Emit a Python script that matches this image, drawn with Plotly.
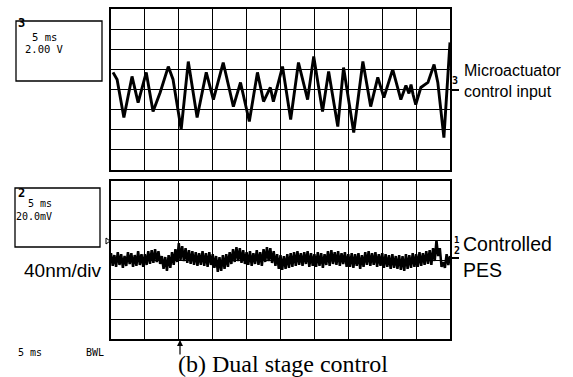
import numpy as np
import plotly.graph_objects as go
from plotly.subplots import make_subplots

# ---- data (divisions) ----
top_t = [0.06, 0.18, 0.38, 0.62, 0.80, 1.04, 1.24, 1.45, 1.69, 1.83, 2.07, 2.28, 2.54, 2.81,
         3.02, 3.31, 3.61, 3.82, 4.08, 4.32, 4.50, 4.70, 4.79, 5.06, 5.30, 5.53, 5.80, 5.98,
         6.24, 6.42, 6.69, 6.86, 7.16, 7.43, 7.66, 7.87, 8.05, 8.31, 8.55, 8.64, 8.70, 8.79,
         8.85, 8.91, 8.99, 9.14, 9.35, 9.53, 9.64, 9.82, 9.94, 10.0]
top_v = [0.85, 0.50, -1.39, 0.65, -0.65, 0.85, -1.09, -0.15, 1.14, 0.50, -1.99, 1.39, -1.39, 0.85,
         -0.50, 1.34, -0.85, 0.35, -1.59, 0.85, -0.60, 0.10, -0.60, 1.14, -1.49, 1.34, -0.50, 1.64,
         -1.09, 0.90, -1.84, 1.09, -2.14, 1.39, -0.85, 0.60, -0.40, 1.00, -0.50, -0.10, 0.20, -0.20,
         0.25, -0.25, -0.75, 0.10, 0.35, 1.24, 0.35, -2.39, 0.85, 2.34]

bot_v = [
    0.35, -0.30, 0.25, -0.35, 0.40, -0.25, 0.30, -0.40, 0.20, -0.30,
    0.40, -0.20, 0.35, -0.35, 0.25, -0.30, 0.45, -0.25, 0.30, -0.35,
    0.30, -0.25, 0.45, -0.20, 0.50, -0.15, 0.55, -0.10, 0.45, -0.20,
    0.20, -0.45, 0.15, -0.55, 0.25, -0.40, 0.40, -0.25, 0.55, -0.10,
    0.85, 0.00, 0.70, -0.05, 0.60, -0.15, 0.50, -0.20, 0.45, -0.25,
    0.40, -0.30, 0.35, -0.25, 0.45, -0.30, 0.35, -0.35, 0.40, -0.25,
    0.30, -0.40, 0.20, -0.60, 0.15, -0.55, 0.25, -0.45, 0.30, -0.35,
    0.40, -0.20, 0.55, -0.10, 0.65, -0.05, 0.60, -0.15, 0.50, -0.20,
    0.40, -0.25, 0.45, -0.30, 0.35, -0.20, 0.50, -0.25, 0.40, -0.30,
    0.55, -0.10, 0.65, -0.05, 0.60, -0.15, 0.45, -0.30, 0.30, -0.45,
    0.25, -0.50, 0.20, -0.45, 0.30, -0.40, 0.35, -0.35, 0.40, -0.30,
    0.45, -0.25, 0.35, -0.30, 0.40, -0.20, 0.45, -0.35, 0.35, -0.30,
    0.30, -0.35, 0.40, -0.30, 0.35, -0.40, 0.30, -0.25, 0.45, -0.30,
    0.50, -0.20, 0.40, -0.25, 0.45, -0.30, 0.35, -0.20, 0.40, -0.35,
    0.30, -0.35, 0.35, -0.40, 0.30, -0.30, 0.35, -0.45, 0.25, -0.35,
    0.40, -0.25, 0.45, -0.30, 0.35, -0.25, 0.40, -0.35, 0.30, -0.30,
    0.35, -0.40, 0.30, -0.35, 0.25, -0.45, 0.30, -0.40, 0.20, -0.45,
    0.25, -0.50, 0.20, -0.55, 0.30, -0.45, 0.25, -0.40, 0.35, -0.35,
    0.30, -0.35, 0.40, -0.30, 0.35, -0.25, 0.45, -0.20, 0.50, -0.25,
    0.60, -0.05, 1.00, 0.20, 0.60, -0.35, -0.10, -0.40, 0.30, -0.25,
    0.20]
bot_t = np.linspace(0, 10, len(bot_v))

W, H = 573, 377
def px(x): return x / W
def py(y): return 1 - y / H

fig = make_subplots(rows=2, cols=1)
fig.add_trace(go.Scatter(x=top_t, y=top_v, mode="lines",
                         line=dict(color="black", width=2.9), showlegend=False), row=1, col=1)
fig.add_trace(go.Scatter(x=bot_t, y=bot_v, mode="lines",
                         line=dict(color="black", width=2.5), showlegend=False), row=2, col=1)

xdom = [px(111), px(450)]
axcommon = dict(showgrid=True, gridcolor="black", gridwidth=1.3, zeroline=False,
                showline=True, linecolor="black", linewidth=2, mirror=True,
                showticklabels=False, ticks="", dtick=1)
fig.update_xaxes(range=[0, 10], domain=xdom, **axcommon)
fig.update_yaxes(range=[-4, 4], **axcommon)
fig.update_layout(yaxis=dict(domain=[py(170), py(9)]),
                  yaxis2=dict(domain=[py(339), py(181)]))

mono = "DejaVu Sans Mono"
ann = []
def text(x, y, s, size, family, xanchor="left", yanchor="middle", bold=False):
    ann.append(dict(x=px(x), y=py(y), xref="paper", yref="paper", text=(f"<b>{s}</b>" if bold else s),
                    showarrow=False, xanchor=xanchor, yanchor=yanchor,
                    font=dict(size=size, family=family, color="black")))

text(16, 23, "3", 12, mono, bold=True)
text(30, 37, "5 ms", 10.5, mono)
text(23, 49, "2.00 V", 10.5, mono)
text(16, 193, "2", 12, mono, bold=True)
text(26, 203, "5 ms", 10, mono)
text(14, 216, "20.0mV", 10, mono)
text(22, 270, "40nm/div", 19, "Liberation Sans")
text(462, 70, "Microactuator", 16, "Liberation Sans")
text(462, 91, "control input", 16, "Liberation Sans")
text(461, 244, "Controlled", 19.5, "Liberation Sans")
text(461, 270, "PES", 19.5, "Liberation Sans")
text(450, 80, "3", 10, mono, bold=True)
text(452, 240, "1", 9, mono, bold=True)
text(452, 250, "2", 10, mono, bold=True)
text(16, 352, "5 ms", 10, mono)
text(84, 352, "BWL", 10, mono)
text(283, 364, "(b) Dual stage control", 24, "Liberation Serif", xanchor="center")
ann.append(dict(x=px(180), y=py(340), ax=0, ay=16, xref="paper", yref="paper",
                axref="pixel", ayref="pixel", showarrow=True, arrowhead=2, arrowsize=1,
                arrowwidth=1.2, arrowcolor="black", text=""))

shapes = [
    dict(type="rect", xref="paper", yref="paper", x0=px(16), x1=px(102), y0=py(81), y1=py(21),
         line=dict(color="black", width=1.3)),
    dict(type="rect", xref="paper", yref="paper", x0=px(15), x1=px(100), y0=py(247), y1=py(188),
         line=dict(color="black", width=1.3)),
    dict(type="line", xref="paper", yref="paper", x0=px(450), x1=px(459), y0=py(90), y1=py(90),
         line=dict(color="black", width=2)),
    dict(type="line", xref="paper", yref="paper", x0=px(450), x1=px(459), y0=py(258), y1=py(258),
         line=dict(color="black", width=2)),
    dict(type="path", xref="paper", yref="paper",
         path=f"M {px(106)},{py(238)} L {px(110)},{py(241)} L {px(106)},{py(244)} Z",
         line=dict(color="black", width=1), fillcolor="white"),
]

fig.update_layout(width=W, height=H, margin=dict(l=0, r=0, t=0, b=0),
                  paper_bgcolor="white", plot_bgcolor="white",
                  annotations=ann, shapes=shapes, showlegend=False)
fig.write_html("out.html", config={"displayModeBar": False},
               post_script="document.body.style.margin='0';document.body.style.overflow='hidden';")
